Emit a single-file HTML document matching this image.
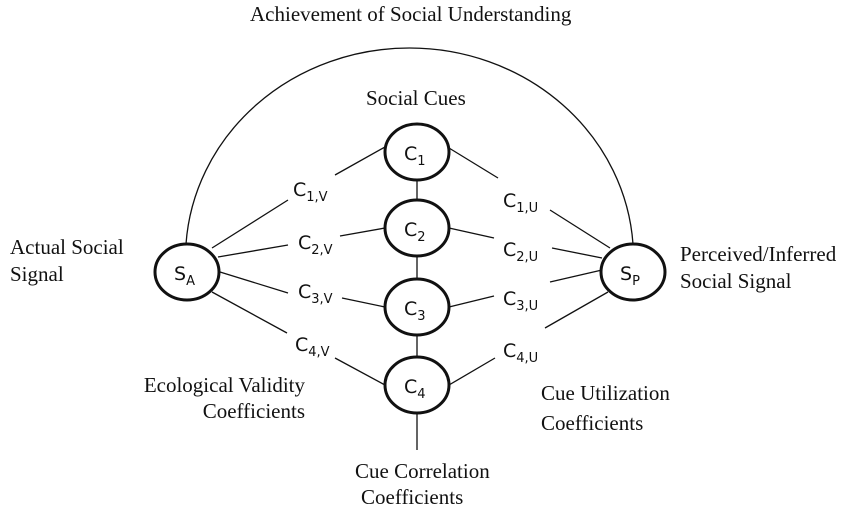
<!DOCTYPE html>
<html><head><style>
html,body{margin:0;padding:0;background:#fff;}
svg{display:block;}
.t{font-family:"Liberation Serif",serif;font-size:21px;fill:#111;}
.s{font-family:"DejaVu Sans","Liberation Sans",sans-serif;font-size:19px;fill:#111;}
.sub{font-size:13px;}
</style></head><body>
<svg width="850" height="511" viewBox="0 0 850 511" xmlns="http://www.w3.org/2000/svg">
<g stroke="#111" stroke-width="1.3" fill="none">
<path d="M186,244 A224 210 0 0 1 633,244"/>
<line x1="212" y1="248" x2="288" y2="200"/><line x1="335" y1="175" x2="385" y2="147"/>
<line x1="218" y1="257" x2="288" y2="245"/><line x1="340" y1="236" x2="385" y2="228"/>
<line x1="220" y1="272" x2="288" y2="293"/><line x1="342" y1="298" x2="385" y2="307"/>
<line x1="212" y1="292" x2="287" y2="333"/><line x1="335" y1="358" x2="385" y2="385"/>
<line x1="449" y1="148" x2="498" y2="178"/><line x1="550" y1="210" x2="610" y2="248"/>
<line x1="449" y1="228" x2="494" y2="238"/><line x1="552" y1="248" x2="602" y2="258"/>
<line x1="449" y1="307" x2="494" y2="296"/><line x1="550" y1="282" x2="602" y2="270"/>
<line x1="449" y1="385" x2="495" y2="358"/><line x1="545" y1="328" x2="608" y2="292"/>
<line x1="417" y1="180" x2="417" y2="200"/><line x1="417" y1="256" x2="417" y2="279"/>
<line x1="417" y1="335" x2="417" y2="357"/><line x1="417" y1="413" x2="417" y2="450"/>
</g>
<g stroke="#111" stroke-width="3" fill="#fff">
<ellipse cx="187" cy="272" rx="32" ry="28"/>
<ellipse cx="633" cy="272" rx="32" ry="28"/>
<ellipse cx="417" cy="152" rx="32" ry="28"/>
<ellipse cx="417" cy="228" rx="32" ry="28"/>
<ellipse cx="417" cy="307" rx="32" ry="28"/>
<ellipse cx="417" cy="385" rx="32" ry="28"/>
</g>
<g class="s">
<text x="174" y="280">S<tspan class="sub" dy="5">A</tspan></text>
<text x="620" y="280">S<tspan class="sub" dy="5">P</tspan></text>
<text x="404" y="160">C<tspan class="sub" dy="5">1</tspan></text>
<text x="404" y="236">C<tspan class="sub" dy="5">2</tspan></text>
<text x="404" y="315">C<tspan class="sub" dy="5">3</tspan></text>
<text x="404" y="393">C<tspan class="sub" dy="5">4</tspan></text>
<text x="293" y="196">C<tspan class="sub" dy="5">1,V</tspan></text>
<text x="298" y="249">C<tspan class="sub" dy="5">2,V</tspan></text>
<text x="298" y="298">C<tspan class="sub" dy="5">3,V</tspan></text>
<text x="295" y="351">C<tspan class="sub" dy="5">4,V</tspan></text>
<text x="503" y="207">C<tspan class="sub" dy="5">1,U</tspan></text>
<text x="503" y="256">C<tspan class="sub" dy="5">2,U</tspan></text>
<text x="503" y="305">C<tspan class="sub" dy="5">3,U</tspan></text>
<text x="503" y="357">C<tspan class="sub" dy="5">4,U</tspan></text>
</g>
<g class="t">
<text x="250" y="21">Achievement of Social Understanding</text>
<text x="366" y="105">Social Cues</text>
<text x="10" y="254">Actual Social</text>
<text x="10" y="281">Signal</text>
<text x="680" y="261">Perceived/Inferred</text>
<text x="680" y="288">Social Signal</text>
<text x="305" y="392" text-anchor="end">Ecological Validity</text>
<text x="305" y="418" text-anchor="end">Coefficients</text>
<text x="541" y="400">Cue Utilization</text>
<text x="541" y="430">Coefficients</text>
<text x="355" y="478">Cue Correlation</text>
<text x="361" y="504">Coefficients</text>
</g>
</svg>
</body></html>
